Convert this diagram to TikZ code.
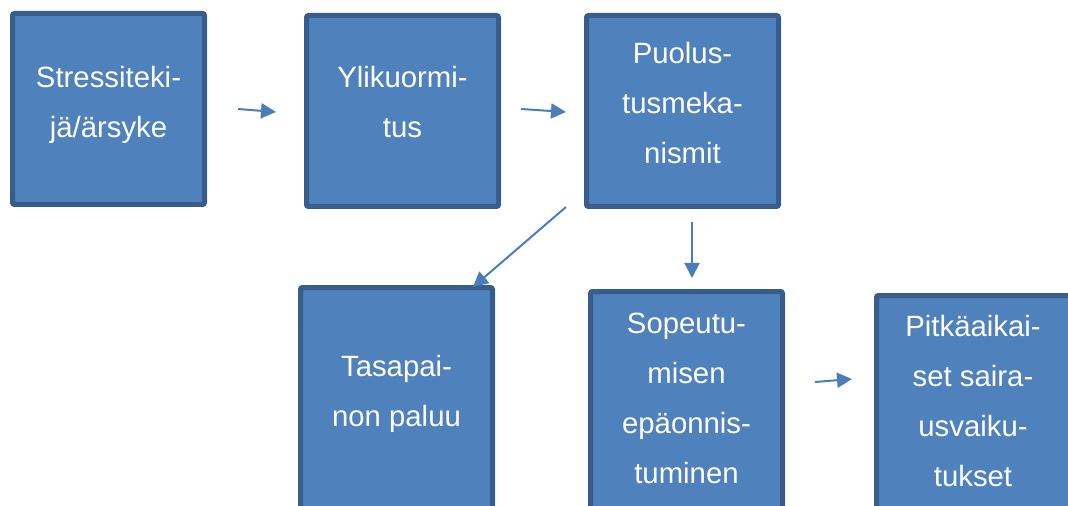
\documentclass[tikz,border=0pt]{standalone}
\usepackage{fontspec}
\setmainfont{Liberation Sans}
\usetikzlibrary{arrows.meta}
\definecolor{laatikko}{RGB}{79,129,189}
\definecolor{reuna}{RGB}{56,93,138}
\definecolor{nuoli}{RGB}{74,126,187}
\newdimen\px \px=0.75pt
\tikzset{
  blok/.style={draw=reuna, fill=laatikko, line width=5\px, rounded corners=2\px,
               minimum width=192\px, minimum height=191\px, inner sep=0pt, outer sep=0pt},
  teksti/.style={text=white, align=center, anchor=base,
                 font=\fontsize{22}{37.5}\selectfont},
  ar/.style={-{Triangle[length=11.25pt, width=11.25pt]}, draw=nuoli, line width=1.5pt},
}

\begin{document}
\begin{tikzpicture}[x=0.75pt, y=-0.75pt]
\useasboundingbox (0,0) rectangle (1068,506);

% upper row (text placed by its last baseline)
\node[blok] (stress) at (108.5,109) {};
\node[blok] (ylik) at (402.5,111) {};
\node[blok] (puol) at (682.5,111) {};
\node[teksti] (stresst) at (108.5,138) {Stressiteki-\\jä/ärsyke};
\node[teksti] (ylikt) at (402.5,138) {Ylikuormi-\\tus};
\node[teksti] (puolt) at (682.5,164) {Puolus-\\tusmeka-\\nismit};

% lower row (runs past the bottom edge)
\node[blok, minimum height=300\px, anchor=north] (tasa) at (396.5,287.5) {};
\node[blok, minimum height=300\px, anchor=north] (sopeu) at (686.5,291.5) {};
\node[blok, minimum height=300\px, minimum width=210\px, anchor=north west] (pitka) at (876.5,295.5) {};
\node[teksti] (tasat) at (396.5,426) {Tasapai-\\non paluu};
\node[teksti] (sopeut) at (686.5,483) {Sopeutu-\\misen\\epäonnis-\\tuminen};
\node[teksti] (pitkat) at (973,486) {Pitkäaikai-\\set saira-\\usvaiku-\\tukset};

% arrows
\coordinate (n1a) at (238,109);
\coordinate (n1b) at (276,112);
\coordinate (n2a) at (521,109);
\coordinate (n2b) at (566,112);
\coordinate (n3a) at (566,207);
\coordinate (n3b) at (473,287);
\coordinate (n4a) at (692,222);
\coordinate (n4b) at (692,278);
\coordinate (n5a) at (815,382);
\coordinate (n5b) at (852,379);
\draw[ar] (n1a) -- (n1b);
\draw[ar] (n2a) -- (n2b);
\draw[ar] (n3a) -- (n3b);
\draw[ar] (n4a) -- (n4b);
\draw[ar] (n5a) -- (n5b);
\end{tikzpicture}
\end{document}
